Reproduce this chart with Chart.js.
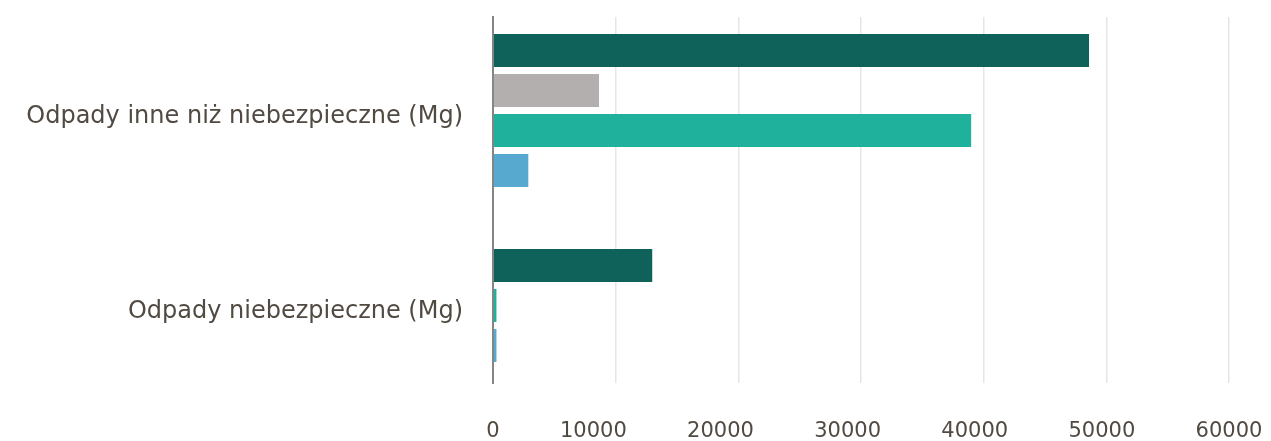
<!DOCTYPE html>
<html>
<head>
<meta charset="utf-8">
<script src="https://cdn.jsdelivr.net/npm/chart.js@4"></script>
<style>
  html, body { margin: 0; padding: 0; background: #fff; }
  #wrap { width: 1271px; height: 441px; position: relative; }
</style>
</head>
<body>
<div id="wrap"><canvas id="myChart"></canvas></div>
<script>
let categories = ['Odpady inne niż niebezpieczne (Mg)', 'Odpady niebezpieczne (Mg)'];

// one array per series, index = category
let seriesNames = ['Seria 1', 'Seria 2', 'Seria 3', 'Seria 4'];
let series1 = [48600, 13000];
let series2 = [8650, null];
let series3 = [39000, 300];
let series4 = [2900, 300];

let xTicks = [0, 10000, 20000, 30000, 40000, 50000, 60000];

const COLORS = ['#0f6259', '#b3afae', '#1fb19c', '#58a9cf'];
const TEXT_COLOR = '#514a42';
const FONT = '"DejaVu Sans", sans-serif';
const TICK_SIZE = 21;

function toPoints(values) {
    return values.map((v, i) => ({ x: v, y: i }));
}

// the value labels under the axis are spread edge to edge (space-between),
// not centred on the grid lines, so they live on their own axis
const spreadTickLabels = {
    id: 'spreadTickLabels',
    afterLayout(chart) {
        const x = chart.scales.x;
        const xl = chart.scales.xLabels;
        const ctx = chart.ctx;
        ctx.save();
        ctx.font = TICK_SIZE + 'px ' + FONT;
        const widths = xTicks.map(v => ctx.measureText(String(v)).width);
        ctx.restore();
        const left = x.getPixelForValue(xTicks[0]) - widths[0] / 2;
        const right = x.getPixelForValue(xTicks[xTicks.length - 1]) + widths[widths.length - 1] / 2;
        const total = widths.reduce((a, b) => a + b, 0);
        const gap = (right - left - total) / (xTicks.length - 1);
        let pos = left;
        xl.ticks.forEach((t, i) => {
            t.value = xl.getValueForPixel(pos + widths[i] / 2);
            pos += widths[i] + gap;
        });
    }
};

let chartElement = document.getElementById('myChart').getContext('2d');

let myChart = new Chart(chartElement, {
    type: 'bar',
    data: {
        datasets: [series1, series2, series3, series4].map((s, i) => ({
            label: seriesNames[i],
            data: toPoints(s),
            backgroundColor: COLORS[i],
            hoverBackgroundColor: COLORS[i],
            borderColor: 'rgba(0,0,0,0)',
            borderWidth: { top: 3.5, bottom: 3.5, left: 0, right: 0 },
            borderSkipped: false,
            inflateAmount: 0,
            barThickness: 40
        }))
    },
    plugins: [spreadTickLabels],
    options: {
        indexAxis: 'y',
        responsive: true,
        maintainAspectRatio: false,
        animation: false,
        skipNull: true,
        layout: { padding: { top: 17, right: 42, bottom: 0, left: 0 } },
        plugins: {
            legend: { display: false },
            tooltip: { enabled: true }
        },
        scales: {
            x: {
                type: 'linear',
                position: 'bottom',
                min: xTicks[0],
                max: xTicks[xTicks.length - 1],
                afterBuildTicks: (axis) => { axis.ticks = xTicks.map(v => ({ value: v })); },
                afterFit: (axis) => {
                    axis.height = 0;
                    axis.paddingLeft = 0;
                    axis.paddingRight = 0;
                },
                grid: { color: '#e6e6e6', lineWidth: 1.5, drawTicks: false },
                border: { display: false },
                ticks: { display: false }
            },
            xLabels: {
                type: 'linear',
                axis: 'x',
                position: 'bottom',
                min: xTicks[0],
                max: xTicks[xTicks.length - 1],
                afterBuildTicks: (axis) => { axis.ticks = xTicks.map(v => ({ value: v })); },
                afterFit: (axis) => {
                    axis.height = 58;
                    axis.paddingLeft = 0;
                    axis.paddingRight = 0;
                },
                grid: { display: false, drawTicks: false },
                border: { display: false },
                ticks: {
                    color: TEXT_COLOR,
                    font: { family: FONT, size: TICK_SIZE },
                    padding: 36,
                    maxRotation: 0,
                    autoSkip: false,
                    callback: (value, i) => String(xTicks[i])
                }
            },
            y: {
                type: 'linear',
                reverse: true,
                offset: false,
                min: -0.4795,
                max: 1.3974,
                afterBuildTicks: (axis) => { axis.ticks = categories.map((c, i) => ({ value: i })); },
                afterFit: (axis) => {
                    axis.width = 493;
                    axis.paddingTop = 0;
                    axis.paddingBottom = 0;
                },
                grid: { color: 'rgba(0,0,0,0)', drawTicks: false, offset: false },
                border: { display: true, color: '#858585', width: 2 },
                ticks: {
                    color: TEXT_COLOR,
                    font: { family: FONT, size: 24 },
                    padding: 30,
                    labelOffset: 6,
                    callback: (value) => categories[value]
                }
            }
        }
    }
});
</script>
</body>
</html>
